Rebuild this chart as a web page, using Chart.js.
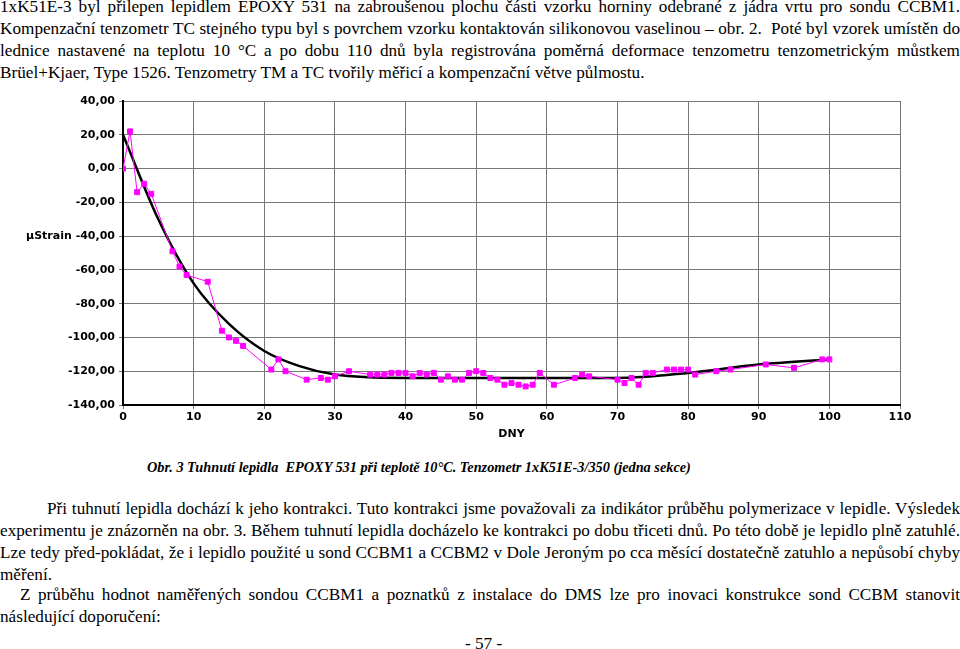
<!DOCTYPE html>
<html><head><meta charset="utf-8">
<script src="https://cdn.jsdelivr.net/npm/chart.js@4"></script>
<style>
body{margin:0;width:960px;height:649px;overflow:hidden;background:#fff;font-family:"Liberation Serif",serif;font-size:17.2px;color:#000;position:relative}
.t{position:absolute;left:0;width:960px;white-space:nowrap;line-height:22px}
.j{text-align:justify;text-align-last:justify}
#c{position:absolute;left:20px;top:90px}
</style></head><body>
<div class="t j" style="top:-4px">1xK51E-3 byl přilepen lepidlem EPOXY 531 na zabroušenou plochu části vzorku horniny odebrané z jádra vrtu pro sondu CCBM1.</div>
<div class="t j" style="top:18px">Kompenzační tenzometr TC stejného typu byl s povrchem vzorku kontaktován silikonovou vaselinou – obr. 2.&nbsp; Poté byl vzorek umístěn do</div>
<div class="t j" style="top:40px">lednice nastavené na teplotu 10 °C a po dobu 110 dnů byla registrována poměrná deformace tenzometru tenzometrickým můstkem</div>
<div class="t" style="top:62px">Brüel+Kjaer, Type 1526. Tenzometry TM a TC tvořily měřicí a kompenzační větve půlmostu.</div>
<canvas id="c" width="900" height="355" style="width:900px;height:355px"></canvas>
<div class="t" style="top:456px;left:147px;font-weight:bold;font-style:italic;font-size:14.3px">Obr. 3 Tuhnutí lepidla&nbsp; EPOXY 531 při teplotě 10°C. Tenzometr 1xK51E-3/350 (jedna sekce)</div>
<div class="t j" style="top:498px;left:47px;width:913px">Při tuhnutí lepidla dochází k jeho kontrakci. Tuto kontrakci jsme považovali za indikátor průběhu polymerizace v lepidle. Výsledek</div>
<div class="t j" style="top:520px">experimentu je znázorněn na obr. 3. Během tuhnutí lepidla docházelo ke kontrakci po dobu třiceti dnů. Po této době je lepidlo plně zatuhlé.</div>
<div class="t j" style="top:542px">Lze tedy před-pokládat, že i lepidlo použité u sond CCBM1 a CCBM2 v Dole Jeroným po cca měsící dostatečně zatuhlo a nepůsobí chyby</div>
<div class="t" style="top:564px">měření.</div>
<div class="t j" style="top:584px;left:20px;width:940px">Z průběhu hodnot naměřených sondou CCBM1 a poznatků z instalace do DMS lze pro inovaci konstrukce sond CCBM stanovit</div>
<div class="t" style="top:606px">následující doporučení:</div>
<div class="t" style="top:633px;left:465px;width:auto">- 57 -</div>
<script>
const days=[0,1,2,3,4,7,8,9,12,14,15,16,17,21,22,23,26,28,29,30,32,35,36,37,38,39,40,41,42,43,44,45,46,47,48,49,50,51,52,53,54,55,56,57,58,59,61,64,65,66,70,71,72,73,74,75,77,78,79,80,81,84,86,91,95,99,100];
const strain=[0,22,-14,-9,-15,-49,-58,-63,-67,-96,-100,-102,-105,-119,-113,-120,-125,-124,-125,-123,-120,-122,-122,-122,-121,-121,-121,-123,-121,-122,-121,-125,-123,-125,-125,-121,-120,-121,-124,-125,-128,-127,-128,-129,-128,-121,-128,-124,-122,-123,-125,-127,-124,-128,-121,-121,-119,-119,-119,-119,-122,-120,-119,-116,-118,-113,-113];
const trendDays=[0,5,10,15,20,25,30,40,50,60,70,80,90,100];
const trendVals=[20,-30,-68,-92,-108,-117,-122,-124,-124,-124,-124,-121,-116,-113];
const yTicks=[40,20,0,-20,-40,-60,-80,-100,-120,-140];
const tickFont={family:"DejaVu Sans",size:11,weight:"bold"};
new Chart(document.getElementById('c'),{
 type:'scatter',
 data:{datasets:[
  {data:days.map((d,i)=>({x:d,y:strain[i]})),showLine:true,borderColor:'#ff00ff',backgroundColor:'#ff00ff',borderWidth:1,pointStyle:'rect',pointRadius:3.5,tension:0},
  {data:trendDays.map((d,i)=>({x:d,y:trendVals[i]})),showLine:true,borderColor:'#000',borderWidth:2.5,pointRadius:0,cubicInterpolationMode:'monotone'}
 ]},
 options:{animation:false,responsive:false,
  layout:{padding:{top:11,right:20,left:0,bottom:0}},
  plugins:{legend:{display:false},tooltip:{enabled:false}},
  scales:{
   x:{type:'linear',min:0,max:110,afterBuildTicks:a=>{a.ticks=[0,10,20,30,40,50,60,70,80,90,100,110].map(v=>({value:v}))},
      grid:{color:'#777',drawTicks:true,tickLength:4},border:{color:'#000',width:2},
      ticks:{font:tickFont,color:'#000',maxRotation:0,padding:2},
      title:{display:true,text:'DNY',font:tickFont,color:'#000',padding:{top:6}},
      afterFit:s=>{s.height=40}},
   y:{min:-140,max:40,afterBuildTicks:a=>{a.ticks=yTicks.map(v=>({value:v}))},
      grid:{color:'#777',drawTicks:true,tickLength:4},border:{color:'#000',width:2},
      ticks:{font:tickFont,color:'#000',padding:4,callback:v=>(v===-40?'µStrain ':'')+v.toFixed(2).replace('.',',')},
      afterFit:s=>{s.width=103}}
  }}
});
</script>
</body></html>
